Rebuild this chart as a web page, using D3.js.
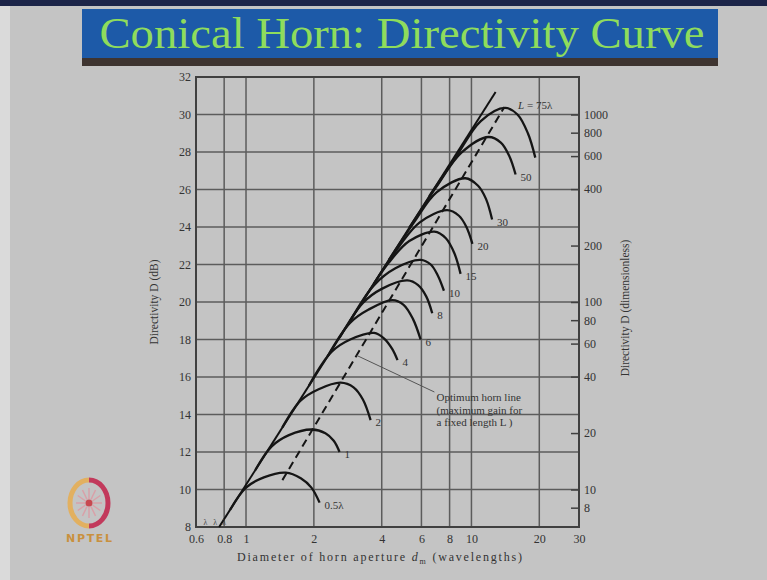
<!DOCTYPE html>
<html>
<head>
<meta charset="utf-8">
<script src="https://cdn.jsdelivr.net/npm/d3@7"></script>
<style>
body { margin: 0; background: #c4c4c4; }
svg { display: block; }
</style>
</head>
<body>
<div id="slide"></div>
<script>
var width = 767;
var height = 580;
var serif = "'Liberation Serif', 'DejaVu Serif', serif";

// axis ticks
var xTicks = [0.6, 0.8, 1, 2, 4, 6, 8, 10, 20, 30];
var yTicks = [8, 10, 12, 14, 16, 18, 20, 22, 24, 26, 28, 30, 32];
var ratioTicks = [8, 10, 20, 40, 60, 80, 100, 200, 400, 600, 800, 1000];

// one curve per horn length L (wavelengths): aperture d (wavelengths) vs directivity (dB)
var hornLengths = [0.5, 1, 2, 4, 6, 8, 10, 15, 20, 30, 50, 75];
var curveNames = ["0.5λ", "1", "2", "4", "6", "8", "10", "15", "20", "30", "50", "75λ"];
var curveAperture = [
    [0.85, 1.0, 1.2, 1.5, 1.75, 1.95, 2.12],
    [1.1, 1.3, 1.55, 1.96, 2.25, 2.45, 2.6],
    [1.45, 1.75, 2.1, 2.63, 3.0, 3.3, 3.57],
    [1.9, 2.4, 2.9, 3.7, 4.1, 4.45, 4.7],
    [2.3, 2.9, 3.5, 4.46, 5.0, 5.5, 5.95],
    [2.6, 3.3, 4.0, 5.2, 5.8, 6.3, 6.7],
    [2.9, 3.7, 4.6, 5.95, 6.6, 7.1, 7.55],
    [3.3, 4.3, 5.3, 6.85, 7.7, 8.4, 8.95],
    [3.7, 4.8, 5.9, 7.8, 8.8, 9.5, 10.1],
    [4.3, 5.6, 7.0, 9.4, 10.7, 11.6, 12.35],
    [5.3, 7.0, 9.0, 11.9, 13.5, 14.7, 15.7],
    [6.5, 8.5, 11.0, 14.1, 16.0, 17.8, 19.2]
];
var curveGain = [
    [8.92, 10.1, 10.65, 10.9, 10.6, 10.1, 9.3],
    [11.04, 12.3, 12.9, 13.2, 13.0, 12.6, 12.0],
    [13.31, 14.75, 15.35, 15.7, 15.45, 14.8, 13.7],
    [15.53, 17.35, 18.0, 18.35, 18.05, 17.5, 16.9],
    [17.1, 18.9, 19.6, 20.1, 19.85, 19.1, 18.0],
    [18.1, 19.95, 20.7, 21.15, 20.9, 20.3, 19.4],
    [19.0, 20.9, 21.8, 22.25, 22.0, 21.4, 20.6],
    [20.06, 22.1, 23.25, 23.75, 23.4, 22.6, 21.5],
    [21.0, 23.0, 24.25, 24.9, 24.6, 24.0, 23.1],
    [22.24, 24.3, 25.85, 26.6, 26.2, 25.5, 24.4],
    [23.96, 26.15, 27.95, 28.8, 28.5, 27.8, 26.8],
    [25.64, 27.7, 29.65, 30.35, 30.0, 29.0, 27.7]
];

// straight uniform-aperture line and the dashed optimum line
var envelopeAperture = [0.76, 12.8];
var envelopeGain = [8, 31.2];
var optimumAperture = [1.45, 14.0];
var optimumGain = [10.5, 30.4];

// note about the dashed line
var noteLines = ["Optimum horn line", "(maximum gain for", "a fixed length L )"];
var noteLeaderAperture = [3.1, 6.85];
var noteLeaderGain = [17.15, 15.2];

var svg = d3.select("#slide")
    .append("svg")
    .attr("width", width)
    .attr("height", height);

// slide decoration
svg.append("rect").attr("x", 0).attr("y", 0).attr("width", width).attr("height", height).attr("fill", "#c4c4c4");
svg.append("rect").attr("x", 0).attr("y", 0).attr("width", 10).attr("height", height).attr("fill", "#dadada");
svg.append("rect").attr("x", 0).attr("y", 0).attr("width", width).attr("height", 6).attr("fill", "#1c2448");
svg.append("rect").attr("x", 82).attr("y", 57).attr("width", 636).attr("height", 9).attr("fill", "#3e3430");
svg.append("rect").attr("x", 82).attr("y", 9).attr("width", 636).attr("height", 49).attr("fill", "#1d5aa8");
svg.append("text")
    .attr("x", 402)
    .attr("y", 48)
    .attr("text-anchor", "middle")
    .attr("font-family", serif)
    .attr("font-size", 44)
    .attr("textLength", 605)
    .attr("lengthAdjust", "spacingAndGlyphs")
    .attr("fill", "#8fdc5c")
    .text("Conical Horn: Directivity Curve");

// scales
var x = d3.scaleLog().domain([0.6, 30]).range([196, 579]);
var y = d3.scaleLinear().domain([8, 32]).range([527, 77]);
var yRatio = d3.scaleLog().domain([Math.pow(10, 0.8), Math.pow(10, 3.2)]).range([527, 77]);

// grid
var grid = svg.append("g").attr("stroke", "#5c5c5c").attr("stroke-width", 1.5);
grid.selectAll("line.v")
    .data(xTicks)
    .enter()
    .append("line")
    .attr("x1", function(d) { return x(d); })
    .attr("x2", function(d) { return x(d); })
    .attr("y1", y(8))
    .attr("y2", y(32));
grid.selectAll("line.h")
    .data(yTicks)
    .enter()
    .append("line")
    .attr("x1", x(0.6))
    .attr("x2", x(30))
    .attr("y1", function(d) { return y(d); })
    .attr("y2", function(d) { return y(d); });

svg.append("rect")
    .attr("x", x(0.6))
    .attr("y", y(32))
    .attr("width", x(30) - x(0.6))
    .attr("height", y(8) - y(32))
    .attr("fill", "none")
    .attr("stroke", "#404040")
    .attr("stroke-width", 2);

// axes
var xAxis = svg.append("g")
    .attr("transform", "translate(0," + y(8) + ")")
    .call(d3.axisBottom(x).tickValues(xTicks).tickSize(0).tickPadding(7).tickFormat(function(d) { return String(d); }));
var yAxis = svg.append("g")
    .attr("transform", "translate(" + x(0.6) + ",0)")
    .call(d3.axisLeft(y).tickValues(yTicks).tickSize(0).tickPadding(5));
var rAxis = svg.append("g")
    .attr("transform", "translate(" + x(30) + ",0)")
    .call(d3.axisRight(yRatio).tickValues(ratioTicks).tickSizeInner(-8).tickSizeOuter(0).tickPadding(5).tickFormat(function(d) { return String(d); }));

[xAxis, yAxis, rAxis].forEach(function(a) {
    a.select(".domain").remove();
    a.selectAll("text")
        .attr("font-family", serif)
        .attr("font-size", 12)
        .attr("fill", "#333");
    a.selectAll("line").attr("stroke", "#404040").attr("stroke-width", 1.5);
});

// axis titles
svg.append("text")
    .attr("transform", "translate(158,302) rotate(-90)")
    .attr("text-anchor", "middle")
    .attr("font-family", serif)
    .attr("font-size", 11.5)
    .attr("fill", "#333")
    .text("Directivity D (dB)");
svg.append("text")
    .attr("transform", "translate(629,308) rotate(-90)")
    .attr("text-anchor", "middle")
    .attr("font-family", serif)
    .attr("font-size", 11.5)
    .attr("fill", "#333")
    .text("Directivity D (dimensionless)");
var xTitle = svg.append("text")
    .attr("x", 237)
    .attr("y", 561)
    .attr("font-family", serif)
    .attr("font-size", 12)
    .attr("fill", "#333")
    .attr("textLength", 285)
    .attr("lengthAdjust", "spacing");
xTitle.append("tspan").text("Diameter of horn aperture ");
xTitle.append("tspan").attr("font-style", "italic").text("d");
xTitle.append("tspan").attr("font-size", 8).attr("dy", 3).text("m");
xTitle.append("tspan").attr("dy", -3).text(" (wavelengths)");

// lines
var line = d3.line()
    .x(function(d) { return x(d[0]); })
    .y(function(d) { return y(d[1]); });
var smooth = d3.line()
    .x(function(d) { return x(d[0]); })
    .y(function(d) { return y(d[1]); })
    .curve(d3.curveCatmullRom.alpha(0.5));

svg.append("path")
    .attr("d", line(d3.zip(envelopeAperture, envelopeGain)))
    .attr("fill", "none")
    .attr("stroke", "#111")
    .attr("stroke-width", 2);

svg.append("path")
    .attr("d", line(d3.zip(optimumAperture, optimumGain)))
    .attr("fill", "none")
    .attr("stroke", "#151515")
    .attr("stroke-width", 2)
    .attr("stroke-dasharray", "8,5");

svg.append("g")
    .selectAll("path")
    .data(hornLengths)
    .enter()
    .append("path")
    .attr("d", function(d, i) { return smooth(d3.zip(curveAperture[i], curveGain[i])); })
    .attr("fill", "none")
    .attr("stroke", "#151515")
    .attr("stroke-width", 2.3);

// curve labels: at the end of each curve, the longest horn named above its peak
var labels = svg.append("g")
    .attr("font-family", serif)
    .attr("font-size", 11)
    .attr("fill", "#333");
hornLengths.forEach(function(d, i) {
    var n = curveAperture[i].length - 1;
    if (d == 75) {
        var t = labels.append("text")
            .attr("x", x(curveAperture[i][3]) + 13)
            .attr("y", y(curveGain[i][3]) + 1);
        t.append("tspan").attr("font-style", "italic").text("L");
        t.append("tspan").text(" = " + curveNames[i]);
    } else {
        labels.append("text")
            .attr("x", x(curveAperture[i][n]) + 5)
            .attr("y", y(curveGain[i][n]) + 6)
            .text(curveNames[i]);
    }
});

// small marks at the foot of the line
svg.append("g")
    .selectAll("text")
    .data([0.66, 0.73, 0.8])
    .enter()
    .append("text")
    .attr("x", function(d) { return x(d); })
    .attr("y", y(8) - 2)
    .attr("text-anchor", "middle")
    .attr("font-family", serif)
    .attr("font-size", 8)
    .attr("fill", "#444")
    .text("λ");

// note
svg.append("path")
    .attr("d", line(d3.zip(noteLeaderAperture, noteLeaderGain)))
    .attr("fill", "none")
    .attr("stroke", "#555")
    .attr("stroke-width", 1);
svg.append("g")
    .selectAll("text")
    .data(noteLines)
    .enter()
    .append("text")
    .attr("x", x(7.0))
    .attr("y", function(d, i) { return y(14.7) + i * 12.5; })
    .attr("font-family", serif)
    .attr("font-size", 11)
    .attr("fill", "#333")
    .text(function(d) { return d; });

// NPTEL logo
var logo = svg.append("g").attr("transform", "translate(89,503)");
d3.range(12).forEach(function(k) {
    var a = k * Math.PI / 6;
    logo.append("line")
        .attr("x1", 4 * Math.cos(a)).attr("y1", 4 * Math.sin(a))
        .attr("x2", 13 * Math.cos(a)).attr("y2", 15 * Math.sin(a))
        .attr("stroke", "#d9a0a8")
        .attr("stroke-width", 1.5);
});
logo.append("circle").attr("r", 3.5).attr("fill", "#c84850");
logo.append("path")
    .attr("d", "M0,-23 A19,23 0 0 0 0,23")
    .attr("fill", "none")
    .attr("stroke", "#e2b060")
    .attr("stroke-width", 5);
logo.append("path")
    .attr("d", "M0,-23 A19,23 0 0 1 0,23")
    .attr("fill", "none")
    .attr("stroke", "#c23a5c")
    .attr("stroke-width", 5);
logo.append("text")
    .attr("y", 39)
    .attr("text-anchor", "middle")
    .attr("font-family", "'DejaVu Sans', sans-serif")
    .attr("font-weight", "bold")
    .attr("font-size", 11)
    .attr("textLength", 46)
    .attr("fill", "#c9903e")
    .text("NPTEL");
</script>
</body>
</html>
